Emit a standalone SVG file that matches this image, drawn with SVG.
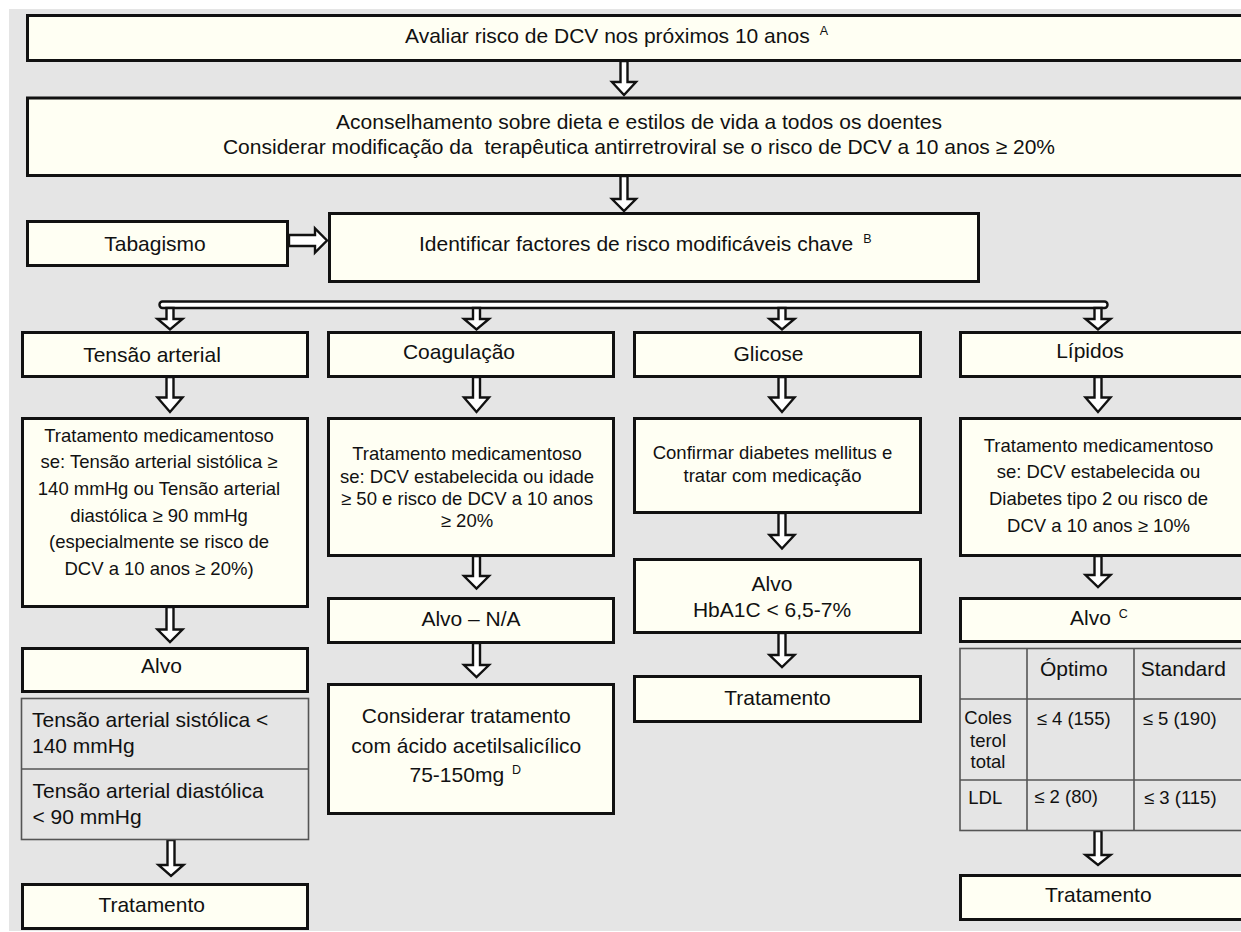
<svg xmlns="http://www.w3.org/2000/svg" width="1241" height="932" viewBox="0 0 1241 932">
<style>
.bg{fill:#e5e5e5}
.box{fill:#fffff3;stroke:#111;stroke-width:3}
.tbl{fill:#e5e5e5;stroke:#555;stroke-width:1.6}
.tl{stroke:#555;stroke-width:1.6;fill:none}
.arr{fill:#fff;stroke:#111;stroke-width:2.4;stroke-linejoin:miter}
text{font-family:"Liberation Sans",Arial,sans-serif;font-size:21px;fill:#111}
.s{font-size:18.5px}
.c{text-anchor:middle}
.sup{font-size:12.5px}
</style>
<rect class="bg" x="9" y="9" width="1232" height="922"/>

<g id="connectors">
<path class="arr" d="M620.5 61V82H612L624 95L636 82H627.5V61Z"/>
<path class="arr" d="M620.5 176V199H612L624 211L636 199H627.5V176Z"/>
<path class="arr" d="M289 235H315V228.5L327 240.5L315 252.5V246H289Z"/>
<rect class="arr" x="159.5" y="301.5" width="948" height="6.5" rx="3" stroke-width="2"/>
<path class="arr" d="M166.5 308V319H157.5L170 329.5L182.5 319H173.5V308Z"/>
<path class="arr" d="M473 308V319H464L476.5 329.5L489 319H480V308Z"/>
<path class="arr" d="M778.5 308V319H769.5L782 329.5L794.5 319H785.5V308Z"/>
<path class="arr" d="M1094.5 308V319H1085.5L1098 329.5L1110.5 319H1101.5V308Z"/>
<path class="arr" d="M166.5 377V397.5H157.5L170 412L182.5 397.5H173.5V377Z"/>
<path class="arr" d="M473 377V397.5H464L476.5 412L489 397.5H480V377Z"/>
<path class="arr" d="M778.5 377V397.5H769.5L782 412L794.5 397.5H785.5V377Z"/>
<path class="arr" d="M1094.5 377V397.5H1085.5L1098 412L1110.5 397.5H1101.5V377Z"/>
<path class="arr" d="M166.5 607V629.5H157.5L170 642L182.5 629.5H173.5V607Z"/>
<path class="arr" d="M167.5 840V865H158.5L171 876L183.5 865H174.5V840Z"/>
<path class="arr" d="M473 556V576H464L476.5 588.5L489 576H480V556Z"/>
<path class="arr" d="M473 643V665H464L476.5 677L489 665H480V643Z"/>
<path class="arr" d="M778.5 513V535H769.5L782 548.5L794.5 535H785.5V513Z"/>
<path class="arr" d="M778.5 633V655H769.5L782 667L794.5 655H785.5V633Z"/>
<path class="arr" d="M1094.5 556V575H1085.5L1098 587L1110.5 575H1101.5V556Z"/>
<path class="arr" d="M1094.5 831V855H1085.5L1098 865L1110.5 855H1101.5V831Z"/>
</g>

<g id="n-avaliar">
<rect class="box" x="27.5" y="15.5" width="1250" height="45"/>
<text x="405" y="43">Avaliar risco de DCV nos próximos 10 anos<tspan class="sup" dx="10" dy="-8">A</tspan></text>
</g>
<g id="n-aconselhamento">
<rect class="box" x="27.5" y="98" width="1250" height="77.5"/>
<text class="c" x="639" y="128.5">Aconselhamento sobre dieta e estilos de vida a todos os doentes</text>
<text class="c" x="639" y="153.5" xml:space="preserve">Considerar modificação da  terapêutica antirretroviral se o risco de DCV a 10 anos ≥ 20%</text>
</g>
<g id="n-tabagismo">
<rect class="box" x="27.5" y="221.5" width="260" height="44"/>
<text class="c" x="155" y="251">Tabagismo</text>
</g>
<g id="n-identificar">
<rect class="box" x="329.5" y="213.5" width="649" height="68"/>
<text x="419" y="251">Identificar factores de risco modificáveis chave<tspan class="sup" dx="10" dy="-8">B</tspan></text>
</g>

<g id="n-tensao">
<rect class="box" x="22.5" y="332.5" width="285" height="44"/>
<text class="c" x="152" y="362">Tensão arterial</text>
</g>
<g id="n-coagulacao">
<rect class="box" x="328.5" y="332.5" width="285" height="44"/>
<text class="c" x="459" y="359">Coagulação</text>
</g>
<g id="n-glicose">
<rect class="box" x="634.5" y="332.5" width="286" height="44"/>
<text class="c" x="768.5" y="360.5">Glicose</text>
</g>
<g id="n-lipidos">
<rect class="box" x="960.5" y="332.5" width="320" height="44"/>
<text class="c" x="1090" y="358">Lípidos</text>
</g>

<g id="n-tensao-trat">
<rect class="box" x="22.5" y="418.5" width="285" height="188"/>
<text class="s c" x="159" y="441.7">Tratamento medicamentoso</text>
<text class="s c" x="159" y="468.3">se: Tensão arterial sistólica ≥</text>
<text class="s c" x="159" y="495">140 mmHg ou Tensão arterial</text>
<text class="s c" x="159" y="521.7">diastólica ≥ 90 mmHg</text>
<text class="s c" x="159" y="548.3">(especialmente se risco de</text>
<text class="s c" x="159" y="575">DCV a 10 anos ≥ 20%)</text>
</g>
<g id="n-coag-trat">
<rect class="box" x="328.5" y="418.5" width="285" height="137"/>
<text class="s c" x="467" y="460">Tratamento medicamentoso</text>
<text class="s c" x="467" y="482.7">se: DCV estabelecida ou idade</text>
<text class="s c" x="467" y="505">≥ 50 e risco de DCV a 10 anos</text>
<text class="s c" x="467" y="526.7">≥ 20%</text>
</g>
<g id="n-glic-conf">
<rect class="box" x="634.5" y="418.5" width="286" height="94"/>
<text class="s c" x="772.5" y="459.3">Confirmar diabetes mellitus e</text>
<text class="s c" x="772.5" y="481.7">tratar com medicação</text>
</g>
<g id="n-lip-trat">
<rect class="box" x="960.5" y="418.5" width="320" height="137"/>
<text class="s c" x="1098.5" y="451.7">Tratamento medicamentoso</text>
<text class="s c" x="1098.5" y="478.3">se: DCV estabelecida ou</text>
<text class="s c" x="1098.5" y="505">Diabetes tipo 2 ou risco de</text>
<text class="s c" x="1098.5" y="531.7">DCV a 10 anos ≥ 10%</text>
</g>

<g id="n-tensao-alvo">
<rect class="box" x="22.5" y="648.5" width="285" height="43"/>
<text class="c" x="161.5" y="673.3">Alvo</text>
</g>
<g id="n-tensao-tabela">
<rect class="tbl" x="21.5" y="698.5" width="287" height="141"/>
<line class="tl" x1="21.5" y1="769" x2="308.5" y2="769"/>
<text x="32" y="726.7">Tensão arterial sistólica &lt;</text>
<text x="32" y="753.3">140 mmHg</text>
<text x="32.5" y="798.3">Tensão arterial diastólica</text>
<text x="32.5" y="824.3">&lt; 90 mmHg</text>
</g>
<g id="n-tensao-tratamento">
<rect class="box" x="22.5" y="884.5" width="285" height="44"/>
<text class="c" x="151.7" y="911.7">Tratamento</text>
</g>

<g id="n-coag-alvo">
<rect class="box" x="328.5" y="598.5" width="285" height="44"/>
<text class="c" x="471" y="626">Alvo – N/A</text>
</g>
<g id="n-coag-aspirina">
<rect class="box" x="328.5" y="684.5" width="285" height="129"/>
<text class="c" x="466.3" y="723.3">Considerar tratamento</text>
<text class="c" x="466.3" y="752.7">com ácido acetilsalicílico</text>
<text x="409.5" y="781.7">75-150mg<tspan class="sup" dx="8" dy="-8">D</tspan></text>
</g>

<g id="n-glic-alvo">
<rect class="box" x="634.5" y="559.5" width="286" height="73"/>
<text class="c" x="772" y="590.7">Alvo</text>
<text class="c" x="772" y="616.7">HbA1C &lt; 6,5-7%</text>
</g>
<g id="n-glic-tratamento">
<rect class="box" x="634.5" y="676.5" width="286" height="45"/>
<text class="c" x="777.5" y="705">Tratamento</text>
</g>

<g id="n-lip-alvo">
<rect class="box" x="960.5" y="598.5" width="320" height="43"/>
<text x="1070" y="625">Alvo<tspan class="sup" dx="8" dy="-7">C</tspan></text>
</g>
<g id="n-lip-tabela">
<rect class="tbl" x="960" y="648.5" width="320" height="182" stroke="#444" stroke-width="2"/>
<line class="tl" x1="960" y1="699" x2="1280" y2="699" stroke="#444"/>
<line class="tl" x1="960" y1="780" x2="1280" y2="780" stroke="#444"/>
<line class="tl" x1="1027" y1="648.5" x2="1027" y2="830.5" stroke="#444"/>
<line class="tl" x1="1134" y1="648.5" x2="1134" y2="830.5" stroke="#444"/>
<text x="1040" y="676">Óptimo</text>
<text x="1140.7" y="676">Standard</text>
<text class="s c" x="988" y="724">Coles</text>
<text class="s c" x="988" y="746.7">terol</text>
<text class="s c" x="988" y="768.3">total</text>
<text class="s" x="1036.7" y="725">≤ 4 (155)</text>
<text class="s" x="1142.7" y="725">≤ 5 (190)</text>
<text class="s" x="968.3" y="804">LDL</text>
<text class="s" x="1034.3" y="803.3">≤ 2 (80)</text>
<text class="s" x="1144" y="804">≤ 3 (115)</text>
</g>
<g id="n-lip-tratamento">
<rect class="box" x="960.5" y="875.5" width="320" height="44"/>
<text class="c" x="1098.3" y="901.7">Tratamento</text>
</g>
</svg>
